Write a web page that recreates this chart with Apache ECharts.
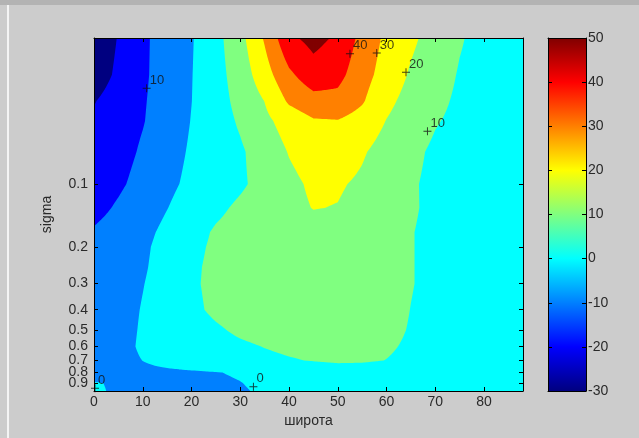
<!DOCTYPE html>
<html>
<head>
<meta charset="utf-8">
<script src="https://cdn.jsdelivr.net/npm/echarts@6/dist/echarts.min.js"></script>
<style>
  html, body { margin: 0; padding: 0; background: #cccccc; }
  #chart { width: 639px; height: 438px; }
</style>
</head>
<body>
<div id="chart"></div>
<script>
// Grid of the field: latitude (deg) across, sigma levels down
const latitudes = [0, 5, 10, 15, 20, 25, 30, 35, 40, 45, 50, 55, 60, 65, 70, 75, 80, 85, 88];
const sigmaLevels = [0.02, 0.03, 0.04, 0.05, 0.07, 0.1, 0.13, 0.17, 0.2, 0.25, 0.3, 0.4, 0.5, 0.6, 0.7, 0.8, 0.9, 0.98];

// Field values on each sigma level (one entry per latitude)
const s002 = [-27, -19.5, -11.7, -5.9, -0.7, 6.9, 16.9, 31.1, 48, 53, 48.5, 36.9, 27.9, 21.8, 16.2, 10.8, 7, 5, 4];
const s003 = [-25, -18.2, -11.5, -5.8, -0.3, 6.5, 14.5, 25.7, 38.1, 46, 43, 33.9, 25.8, 18.9, 14.1, 9.3, 6.5, 5, 4.5];
const s004 = [-20.5, -15.7, -10.9, -5.5, -0.1, 6.1, 12.8, 20.2, 31.5, 36.5, 37, 31, 22.3, 16.7, 12.2, 8.5, 6.5, 5, 4.5];
const s005 = [-18.5, -14.5, -10.5, -5.1, 0.3, 5.6, 11.2, 17.8, 24, 29, 29.5, 26, 19.7, 15.1, 10.6, 8, 6.5, 5, 4.5];
const s007 = [-17, -13.5, -8.8, -3.6, 1.1, 5, 8.8, 14.3, 20.5, 24.5, 25, 21, 16.3, 12.1, 8.5, 6.5, 5.5, 5, 4.5];
const s010 = [-15.5, -11.5, -6.9, -2, 2, 5.3, 8.7, 12.9, 17.8, 21.5, 21, 18.5, 14.2, 11, 8, 6.5, 5.5, 5, 4.5];
const s013 = [-13, -8.8, -4.4, -0.2, 4.1, 8.1, 11.6, 14.4, 17.3, 20.3, 19.7, 17, 14, 10.8, 8.5, 6.8, 5.8, 5, 4.5];
const s017 = [-9, -6, -2.3, 2, 6.8, 11, 13.5, 15, 16, 16.5, 16, 15, 13, 10.3, 8.3, 6.8, 5.8, 5, 4.5];
const s020 = [-8, -5, -1.5, 3, 7.8, 11.5, 13.5, 14.8, 15.5, 15.8, 15.5, 14.5, 12.8, 10.3, 8.3, 6.8, 5.8, 5, 4.5];
const s025 = [-7.5, -4.5, -1, 3.5, 8.5, 12, 13.8, 14.8, 15.3, 15.5, 15.3, 14.5, 12.8, 10.3, 8.3, 6.8, 5.8, 5, 4.5];
const s030 = [-7.5, -4, -0.3, 3.8, 8.8, 12, 13.8, 14.7, 15.2, 15.4, 15.2, 14.5, 12.8, 10.3, 8.3, 6.8, 5.8, 5, 4.5];
const s040 = [-7, -3.5, 0.5, 4.5, 8.3, 11.5, 13.3, 14.3, 14.8, 15, 14.8, 14, 12.3, 9.9, 8, 6.7, 5.8, 5, 4.5];
const s050 = [-7, -3.5, 1, 4, 6.5, 9, 11.3, 12.8, 13.5, 13.8, 13.6, 13, 11.6, 9.6, 8, 6.7, 5.8, 5, 4.5];
const s060 = [-7, -3.5, 1.5, 4, 5.8, 7.3, 8.8, 10.2, 11.3, 11.8, 11.8, 11.5, 10.7, 9.2, 7.8, 6.6, 5.8, 5, 4.5];
const s070 = [-6, -3.3, 0.1, 2.5, 4.5, 6, 7.3, 8.5, 9.5, 10.3, 11, 10.8, 9.9, 8.8, 7.6, 6.5, 5.8, 5, 4.5];
const s080 = [-3, -2.5, -2, -1.5, -1, -0.3, 0.8, 2.5, 4, 5.5, 6.5, 6.5, 6, 5.5, 5.2, 5, 5, 4.8, 4.5];
const s090 = [0.5, -0.8, -2.5, -2.5, -2, -1.3, -0.2, 1.5, 3, 4, 4.5, 4.7, 4.8, 4.8, 4.8, 4.8, 4.7, 4.6, 4.5];
const s098 = [1, -1, -3, -3, -2.5, -1.8, -0.7, 1, 2.5, 3.5, 4, 4.3, 4.5, 4.5, 4.5, 4.5, 4.5, 4.5, 4.5];
const field = [s002, s003, s004, s005, s007, s010, s013, s017, s020, s025, s030, s040, s050, s060, s070, s080, s090, s098];

// Filled contour levels and colour limits
const contourLevels = [-30, -20, -10, 0, 10, 20, 30, 40, 50];
const colorMin = -30, colorMax = 50;

// Tick labels
const latTicks = [0, 10, 20, 30, 40, 50, 60, 70, 80];
const sigmaTicks = [0.1, 0.2, 0.3, 0.4, 0.5, 0.6, 0.7, 0.8, 0.9];
const colorbarTicks = [-30, -20, -10, 0, 10, 20, 30, 40, 50];

// Inline contour labels
const labelLat = [10.8, 52.5, 58.0, 64.0, 68.4, 0.2, 32.7];
const labelSigma = [0.0348, 0.0238, 0.0236, 0.0292, 0.0559, 0.95, 0.935];
const labelText = ['10', '40', '30', '20', '10', '0', '0'];

const FONT = "'Liberation Sans', Arial, sans-serif";
const TEXT = '#2a2a2a';

function jet(f) {
  const c = x => Math.round(255 * Math.max(0, Math.min(1, x)));
  return 'rgb(' + c(1.5 - Math.abs(4 * f - 3)) + ',' + c(1.5 - Math.abs(4 * f - 2)) + ',' + c(1.5 - Math.abs(4 * f - 1)) + ')';
}
const bandColor = lv => jet((lv - colorMin) / (colorMax - colorMin));

// keep the part of a polygon [x, y, value] where value >= lo
function clipAbove(poly, lo) {
  const out = [];
  for (let n = 0; n < poly.length; n++) {
    const p = poly[n], q = poly[(n + 1) % poly.length];
    const pin = p[2] >= lo, qin = q[2] >= lo;
    if (pin) out.push(p);
    if (pin !== qin) {
      const t = (lo - p[2]) / (q[2] - p[2]);
      out.push([p[0] + t * (q[0] - p[0]), p[1] + t * (q[1] - p[1]), lo]);
    }
  }
  return out;
}
const ring = pts => 'M' + pts.map(p => p[0].toFixed(2) + ' ' + p[1].toFixed(2)).join('L') + 'Z';

const SUB = 8;
// each level paints the region where the field is >= that level; higher levels paint on top
function renderLevel(params, api) {
  const k = params.dataIndex;
  const lo = contourLevels[k];
  const xs = latitudes.map(l => api.coord([l, sigmaLevels[0]])[0]);
  const ys = sigmaLevels.map(s => api.coord([latitudes[0], s])[1]);
  const parts = [];
  for (let i = 0; i < sigmaLevels.length - 1; i++) {
    for (let j = 0; j < latitudes.length - 1; j++) {
      const v00 = field[i][j], v01 = field[i][j + 1], v10 = field[i + 1][j], v11 = field[i + 1][j + 1];
      const mn = Math.min(v00, v01, v10, v11), mx = Math.max(v00, v01, v10, v11);
      const x0 = xs[j], x1 = xs[j + 1], y0 = ys[i], y1 = ys[i + 1];
      if (k === 0 || mn >= lo) {
        parts.push(ring([[x0, y0], [x1, y0], [x1, y1], [x0, y1]]));
        continue;
      }
      if (mx < lo) continue;
      const pt = (a, b) => {
        const u = a / SUB, w = b / SUB;
        return [x0 + u * (x1 - x0), y0 + w * (y1 - y0),
          v00 * (1 - u) * (1 - w) + v01 * u * (1 - w) + v10 * (1 - u) * w + v11 * u * w];
      };
      for (let b = 0; b < SUB; b++) {
        for (let a = 0; a < SUB; a++) {
          const p00 = pt(a, b), p01 = pt(a + 1, b), p10 = pt(a, b + 1), p11 = pt(a + 1, b + 1);
          [[p00, p01, p11], [p00, p11, p10]].forEach(tri => {
            const c = clipAbove(tri, lo);
            if (c.length >= 3) parts.push(ring(c));
          });
        }
      }
    }
  }
  return {
    type: 'path',
    silent: true,
    shape: { pathData: parts.join('') },
    style: { fill: bandColor(lo), stroke: null }
  };
}

function renderColorbar(params, api) {
  const a = api.coord([0, api.value(1)]);
  const b = api.coord([1, api.value(2)]);
  const stops = [0, 0.125, 0.375, 0.625, 0.875, 1].map(o => ({ offset: o, color: jet(o) }));
  return {
    type: 'rect',
    silent: true,
    shape: { x: a[0], y: b[1], width: b[0] - a[0], height: a[1] - b[1] },
    style: { fill: { type: 'linear', x: 0, y: 1, x2: 0, y2: 0, colorStops: stops } }
  };
}

const boxAxis = {
  axisLine: { show: true, onZero: false, lineStyle: { color: '#000', width: 1 } },
  splitLine: { show: false },
  z: 5
};
const label = { color: TEXT, fontSize: 14, fontFamily: FONT };
const sigmaLabel = Object.assign({ margin: 6, formatter: v => (+v).toFixed(1) }, label);
// neighbouring sigma labels nearly touch near the surface, so they are split over two axes
const sigmaEven = sigmaTicks.filter((_, i) => i % 2 === 0);
const sigmaOdd = sigmaTicks.filter((_, i) => i % 2 === 1);

const chart = echarts.init(document.getElementById('chart'), null, { renderer: 'canvas' });
chart.setOption({
  animation: false,
  backgroundColor: '#cccccc',
  textStyle: { fontFamily: FONT },
  graphic: [
    { type: 'rect', shape: { x: 0, y: 0, width: 639, height: 5 }, style: { fill: '#b3b3b3' }, silent: true },
    { type: 'rect', shape: { x: 7, y: 5, width: 2, height: 433 }, style: { fill: '#f4f4f4' }, silent: true }
  ],
  grid: [
    { left: 94, top: 38, width: 429, height: 353 },
    { left: 548, top: 38, width: 38, height: 353 }
  ],
  xAxis: [
    Object.assign({}, boxAxis, {
      type: 'value', gridIndex: 0, position: 'bottom', min: 0, max: 88,
      axisTick: { inside: true, length: 4, customValues: latTicks, lineStyle: { color: '#000' } },
      axisLabel: Object.assign({ margin: 4, customValues: latTicks }, label),
      name: 'широта', nameLocation: 'middle', nameGap: 21,
      nameTextStyle: Object.assign({}, label)
    }),
    Object.assign({}, boxAxis, {
      type: 'value', gridIndex: 0, position: 'top', min: 0, max: 88,
      axisTick: { inside: true, length: 4, customValues: latTicks, lineStyle: { color: '#000' } },
      axisLabel: { show: false }
    }),
    Object.assign({}, boxAxis, {
      type: 'value', gridIndex: 1, position: 'bottom', min: 0, max: 1,
      axisTick: { show: false }, axisLabel: { show: false }
    }),
    Object.assign({}, boxAxis, {
      type: 'value', gridIndex: 1, position: 'top', min: 0, max: 1,
      axisTick: { show: false }, axisLabel: { show: false }
    })
  ],
  yAxis: [
    Object.assign({}, boxAxis, {
      type: 'log', logBase: 10, gridIndex: 0, position: 'left', min: 0.02, max: 0.98, inverse: true,
      axisTick: { inside: true, length: 4, customValues: sigmaTicks, lineStyle: { color: '#000' } },
      axisLabel: Object.assign({ customValues: sigmaEven }, sigmaLabel),
      minorTick: { show: false },
      name: 'sigma', nameLocation: 'middle', nameGap: 40, nameRotate: 90,
      nameTextStyle: Object.assign({}, label)
    }),
    Object.assign({}, boxAxis, {
      type: 'log', logBase: 10, gridIndex: 0, position: 'right', min: 0.02, max: 0.98, inverse: true,
      axisTick: { inside: true, length: 4, customValues: sigmaTicks, lineStyle: { color: '#000' } },
      axisLabel: { show: false }
    }),
    Object.assign({}, boxAxis, {
      type: 'value', gridIndex: 1, position: 'right', min: colorMin, max: colorMax, interval: 10,
      axisTick: { inside: true, length: 4, customValues: colorbarTicks, lineStyle: { color: '#000' } },
      axisLabel: Object.assign({ margin: 2, customValues: colorbarTicks }, label)
    }),
    Object.assign({}, boxAxis, {
      type: 'value', gridIndex: 1, position: 'left', min: colorMin, max: colorMax, interval: 10,
      axisTick: { inside: true, length: 4, customValues: colorbarTicks, lineStyle: { color: '#000' } },
      axisLabel: { show: false }
    }),
    {
      type: 'log', logBase: 10, gridIndex: 0, position: 'left', offset: 0, min: 0.02, max: 0.98, inverse: true,
      axisLine: { show: false, onZero: false }, axisTick: { show: false }, splitLine: { show: false },
      axisLabel: Object.assign({ customValues: sigmaOdd }, sigmaLabel),
      z: 5
    }
  ],
  series: [
    {
      type: 'custom',
      name: 'field',
      xAxisIndex: 0, yAxisIndex: 0,
      z: 1,
      renderItem: renderLevel,
      data: contourLevels.map(lv => [latitudes[0], sigmaLevels[0], lv])
    },
    {
      type: 'scatter',
      name: 'labels',
      xAxisIndex: 0, yAxisIndex: 0,
      z: 3,
      symbol: 'path://M-0.6,-5L0.6,-5L0.6,-0.6L5,-0.6L5,0.6L0.6,0.6L0.6,5L-0.6,5L-0.6,0.6L-5,0.6L-5,-0.6L-0.6,-0.6Z',
      symbolSize: 8,
      itemStyle: { color: '#111' },
      label: {
        show: true, position: 'right', distance: 0, offset: [-1, -8],
        formatter: p => labelText[p.dataIndex],
        color: '#111', fontSize: 13, fontFamily: FONT
      },
      data: labelLat.map((l, i) => [l, labelSigma[i]])
    },
    {
      type: 'custom',
      name: 'colorbar',
      xAxisIndex: 2, yAxisIndex: 2,
      z: 1,
      renderItem: renderColorbar,
      data: [[0, colorMin, colorMax]]
    }
  ]
});
</script>
</body>
</html>
